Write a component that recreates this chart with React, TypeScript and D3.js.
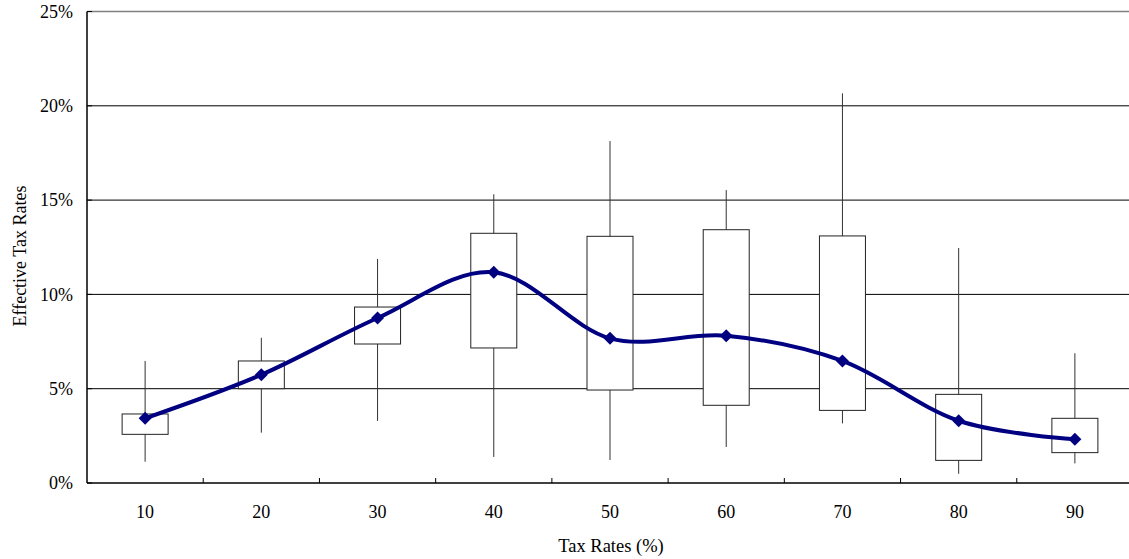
import React from "react";
import * as d3 from "d3";

const categories = ["10", "20", "30", "40", "50", "60", "70", "80", "90"];
const whiskerLow = [1.13, 2.67, 3.29, 1.38, 1.22, 1.91, 3.16, 0.49, 1.04];
const boxLow = [2.58, 5.0, 7.37, 7.16, 4.93, 4.12, 3.85, 1.2, 1.61];
const boxHigh = [3.66, 6.47, 9.33, 13.24, 13.08, 13.43, 13.1, 4.7, 3.43];
const whiskerHigh = [6.47, 7.7, 11.88, 15.31, 18.13, 15.53, 20.66, 12.46, 6.88];
const means = [3.43, 5.74, 8.75, 11.17, 7.67, 7.81, 6.47, 3.3, 2.32];
const yTicks = [0, 5, 10, 15, 20, 25];

const W = 1129;
const H = 559;
const left = 87;
const right = 1133;
const top = 11.5;
const bottom = 483;
const font = "'Liberation Serif', 'Times New Roman', serif";

export default function App() {
  const x = d3.scaleBand<string>().domain(categories).range([left, right]).padding(0);
  const y = d3.scaleLinear().domain([0, 25]).range([bottom, top]);
  const bw = x.bandwidth();
  const boxW = 46;
  const cx = (i: number) => (x(categories[i]) as number) + bw / 2;

  const line = d3
    .line<number>()
    .x((_, i) => cx(i))
    .y((d) => y(d))
    .curve(d3.curveCardinal.tension(0));

  const r = 6.5;
  const diamond = `M0,${-r}L${r},0L0,${r}L${-r},0Z`;

  return (
    <svg width={W} height={H} style={{ position: "absolute", left: 0, top: 0 }}>
      <rect x={0} y={0} width={W} height={H} fill="#fff" />
      {yTicks.map((t) => (
        <g key={t}>
          {t > 0 && (
            <line x1={left} x2={right} y1={y(t)} y2={y(t)} stroke={t === 25 ? "#808080" : "#000"} strokeWidth={t === 25 ? 1.5 : 1} />
          )}
          <text x={73} y={y(t)} dy="0.35em" textAnchor="end" fontFamily={font} fontSize={18} fill="#000">
            {t}%
          </text>
        </g>
      ))}
      {categories.map((c, i) => (
        <g key={c}>
          <line x1={cx(i)} x2={cx(i)} y1={y(whiskerLow[i])} y2={y(whiskerHigh[i])} stroke="#333" strokeWidth={1} />
          <rect
            x={cx(i) - boxW / 2}
            y={y(boxHigh[i])}
            width={boxW}
            height={y(boxLow[i]) - y(boxHigh[i])}
            fill="#fff"
            stroke="#222"
            strokeWidth={1}
          />
          <text x={cx(i)} y={518} textAnchor="middle" fontFamily={font} fontSize={18} fill="#000">
            {c}
          </text>
        </g>
      ))}
      <path d={line(means) || ""} fill="none" stroke="#000080" strokeWidth={4} />
      {means.map((m, i) => (
        <path key={i} d={diamond} transform={`translate(${cx(i)},${y(m)})`} fill="#000080" />
      ))}
      <line x1={left} x2={left} y1={top} y2={bottom} stroke="#000" strokeWidth={1.5} />
      <line x1={left} x2={right} y1={bottom} y2={bottom} stroke="#000" strokeWidth={1.5} />
      {categories.slice(1).map((c) => (
        <line key={c} x1={x(c) as number} x2={x(c) as number} y1={bottom} y2={bottom - 5} stroke="#000" strokeWidth={1} />
      ))}
      {yTicks.map((t) => (
        <line key={"yt" + t} x1={left} x2={left + 5} y1={y(t)} y2={y(t)} stroke="#000" strokeWidth={1} />
      ))}
      <text x={611} y={552} textAnchor="middle" fontFamily={font} fontSize={18.5} fill="#000">
        Tax Rates (%)
      </text>
      <text
        transform={`translate(26,256) rotate(-90)`}
        textAnchor="middle"
        fontFamily={font}
        fontSize={18}
        fill="#000"
      >
        Effective Tax Rates
      </text>
    </svg>
  );
}
